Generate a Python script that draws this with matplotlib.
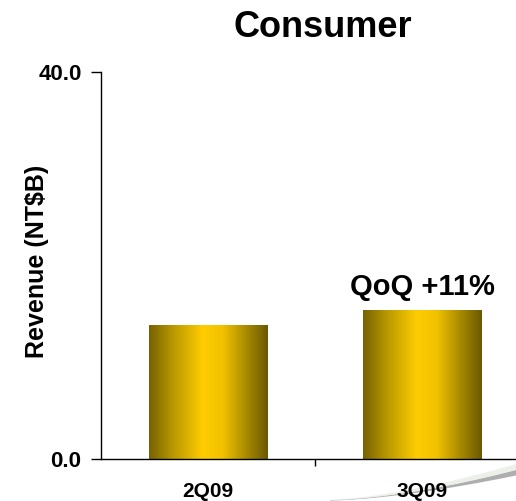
import matplotlib
matplotlib.use("Agg")
import matplotlib.pyplot as plt
import numpy as np
from matplotlib.colors import LinearSegmentedColormap
from matplotlib.patches import Polygon

quarters = ["2Q09", "3Q09"]
revenue = [13.9, 15.4]
growth_label = "QoQ +11%"

plt.rcParams['font.family'] = ['Liberation Sans', 'DejaVu Sans']
plt.rcParams['font.weight'] = 'bold'

fig = plt.figure(figsize=(5.16, 5.01), dpi=100, facecolor="white")

# faint swoosh in the lower right corner (background decoration)
bg = fig.add_axes([0, 0, 1, 1], zorder=-1)
bg.set_xlim(0, 516)
bg.set_ylim(501, 0)
bg.axis("off")
t = np.linspace(0, 1, 60)
xs = 330 + 186 * t
top = 500 - 30 * t ** 1.6
bot = top + 0.5 + 5 * t ** 2
poly = np.column_stack([np.r_[xs, xs[::-1]], np.r_[top, bot[::-1]]])
bg.add_patch(Polygon(poly, closed=True, facecolor="#9a9a9a", edgecolor="none", alpha=0.8))
bg.add_patch(Polygon(np.column_stack([np.r_[xs, xs[::-1]], np.r_[top - 6 * t, top[::-1]]]),
                     closed=True, facecolor="#e4ebe0", edgecolor="none", alpha=0.7))

ax = fig.add_axes([101 / 516, 42 / 501, 428 / 516, 387 / 501])
ax.set_facecolor("none")

gold = LinearSegmentedColormap.from_list(
    "gold", [(0.0, "#766200"), (0.2, "#b89800"), (0.45, "#ffcc00"),
             (0.62, "#f2c200"), (0.82, "#a88a00"), (1.0, "#6b5800")])
grad = np.linspace(0, 1, 256).reshape(1, -1)

width = 0.556
bars = ax.bar(range(len(quarters)), revenue, width=width, color="none", edgecolor="none")
for b in bars:
    x0, y0 = b.get_x(), b.get_y()
    im = ax.imshow(grad, cmap=gold, aspect="auto",
                   extent=[x0, x0 + b.get_width(), y0, y0 + b.get_height()], zorder=2)
    im.set_clip_path(b)

ax.set_xlim(-0.5, 1.5)
ax.set_ylim(0, 40)

ax.spines["top"].set_visible(False)
ax.spines["right"].set_visible(False)
ax.spines["left"].set_linewidth(1.0)
ax.spines["bottom"].set_linewidth(1.0)
ax.spines["bottom"].set_zorder(3)

ax.set_yticks([0, 40])
ax.set_yticklabels(["0.0", "40.0"], fontsize=16, fontweight="bold")
ax.tick_params(axis="y", direction="out", length=7, width=1, pad=7)
ax.set_xticks([0.5])
ax.set_xticklabels([""])
ax.tick_params(axis="x", direction="out", length=5, width=1)

for i, q in enumerate(quarters):
    ax.text(i, -0.0974, q, transform=ax.get_xaxis_transform(), ha="center",
            va="baseline", fontsize=15, fontweight="bold")

ax.annotate(growth_label, xy=(1, revenue[1]), xytext=(0, 11), textcoords="offset points",
            ha="center", va="baseline", fontsize=21, fontweight="bold")

fig.text(323 / 516, 1 - 37 / 501, "Consumer", ha="center", va="baseline",
         fontsize=26, fontweight="bold")
fig.text(37 / 516, 1 - 261 / 501, "Revenue (NT$B)", rotation=90, ha="center",
         va="center", fontsize=18, fontweight="bold")

fig.savefig("out.png", dpi=100, facecolor="white")
